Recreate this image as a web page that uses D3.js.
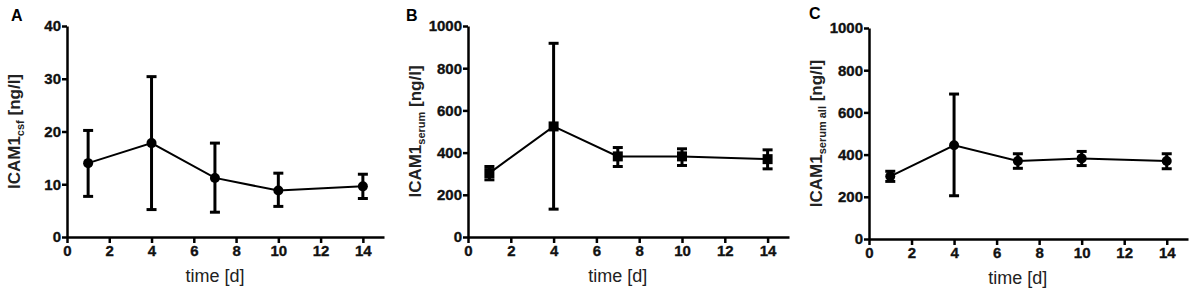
<!DOCTYPE html>
<html>
<head>
<meta charset="utf-8">
<script src="https://cdn.jsdelivr.net/npm/d3@7"></script>
<style>
  body { margin: 0; background: #fff; }
  text { font-family: "Liberation Sans", Arial, sans-serif; }
</style>
</head>
<body>
<div id="chart"></div>
<script>
// data
const days = [1, 4, 7, 10, 14];
const xTicks = [0, 2, 4, 6, 8, 10, 12, 14];

const csfMean = [14.0, 17.8, 11.2, 8.8, 9.6];
const csfLow  = [7.7, 5.2, 4.7, 5.8, 7.3];
const csfHigh = [20.2, 30.4, 17.8, 12.1, 11.9];
const csfTicks = [0, 10, 20, 30, 40];

const serumMean = [303, 524, 382, 382, 369];
const serumLow  = [271, 132, 334, 339, 323];
const serumHigh = [334, 918, 424, 418, 413];

const allMean = [297, 444, 370, 382, 370];
const allLow  = [273, 205, 335, 348, 333];
const allHigh = [321, 687, 404, 415, 404];
const serumTicks = [0, 200, 400, 600, 800, 1000];

const width = 1191, height = 292;

const svg = d3.select("#chart")
    .append("svg")
    .attr("width", width)
    .attr("height", height);

function panel(opts) {
    const { letter, left, right, top, bottom, yMax, yTicks, mean, low, high, marker, sub, letterX, letterY } = opts;

    let x = d3.scaleLinear().domain([0, 15]).range([left, right]);
    let y = d3.scaleLinear().domain([0, yMax]).range([bottom, top]);

    const g = svg.append("g");

    // axes
    const xa = g.append("g")
        .attr("transform", `translate(0,${bottom})`)
        .call(d3.axisBottom(x).tickValues(xTicks).tickSize(6).tickSizeOuter(0).tickPadding(2).tickFormat(d3.format("d")));
    const ya = g.append("g")
        .attr("transform", `translate(${left},0)`)
        .call(d3.axisLeft(y).tickValues(yTicks).tickSize(5).tickSizeOuter(0).tickPadding(1).tickFormat(d3.format("d")));

    for (let a of [xa, ya]) {
        a.select(".domain").attr("stroke", "#000").attr("stroke-width", 2.5);
        a.selectAll(".tick line").attr("stroke", "#000").attr("stroke-width", 2.5);
        a.selectAll(".tick text")
            .attr("fill", "#111")
            .attr("stroke", "#111")
            .attr("stroke-width", 0.35)
            .style("font-size", "15px")
            .style("font-weight", "bold");
    }

    // x label
    g.append("text")
        .attr("x", x(7))
        .attr("y", bottom + 45)
        .attr("text-anchor", "middle")
        .style("font-size", "18px")
        .attr("fill", "#222")
        .text("time [d]");

    // y label with subscript
    const yl = g.append("text")
        .attr("transform", `translate(${left - 47},${(top + bottom) / 2}) rotate(-90)`)
        .attr("text-anchor", "middle")
        .style("font-size", "17px")
        .style("font-weight", "bold")
        .attr("fill", "#222");
    yl.append("tspan").text("ICAM1");
    yl.append("tspan").attr("dy", 4).style("font-size", "11px").text(sub);
    yl.append("tspan").attr("dy", -4).text(" [ng/l]");

    // panel letter
    g.append("text")
        .attr("x", letterX)
        .attr("y", letterY)
        .style("font-size", "16px")
        .style("font-weight", "bold")
        .text(letter);

    const rows = days.map((d, i) => ({ day: d, m: mean[i], lo: low[i], hi: high[i] }));

    // connecting line
    let line = d3.line()
        .x(d => x(d.day))
        .y(d => y(d.m));

    g.append("path")
        .datum(rows)
        .attr("d", line)
        .attr("fill", "none")
        .attr("stroke", "#000")
        .attr("stroke-width", 2);

    // error bars
    const eb = g.selectAll(".eb").data(rows).join("g");
    eb.append("line")
        .attr("x1", d => x(d.day)).attr("x2", d => x(d.day))
        .attr("y1", d => y(d.lo)).attr("y2", d => y(d.hi))
        .attr("stroke", "#000").attr("stroke-width", 3);
    for (let k of ["lo", "hi"]) {
        eb.append("line")
            .attr("x1", d => x(d.day) - 5).attr("x2", d => x(d.day) + 5)
            .attr("y1", d => y(d[k])).attr("y2", d => y(d[k]))
            .attr("stroke", "#000").attr("stroke-width", 3);
    }

    // markers
    if (marker === "square") {
        g.selectAll(".mk").data(rows).join("rect")
            .attr("x", d => x(d.day) - 5)
            .attr("y", d => y(d.m) - 5)
            .attr("width", 10).attr("height", 10)
            .attr("fill", "#000");
    } else {
        g.selectAll(".mk").data(rows).join("circle")
            .attr("cx", d => x(d.day))
            .attr("cy", d => y(d.m))
            .attr("r", 5)
            .attr("fill", "#000");
    }
}

panel({ letter: "A", letterX: 11, letterY: 21, left: 67, right: 384, top: 26, bottom: 237, yMax: 40, yTicks: csfTicks,
        mean: csfMean, low: csfLow, high: csfHigh, marker: "circle", sub: "csf" });
panel({ letter: "B", letterX: 406, letterY: 21, left: 468, right: 789, top: 26, bottom: 237, yMax: 1000, yTicks: serumTicks,
        mean: serumMean, low: serumLow, high: serumHigh, marker: "square", sub: "serum" });
panel({ letter: "C", letterX: 809, letterY: 19, left: 869, right: 1188, top: 28, bottom: 239, yMax: 1000, yTicks: serumTicks,
        mean: allMean, low: allLow, high: allHigh, marker: "circle", sub: "serum all" });
</script>
</body>
</html>
